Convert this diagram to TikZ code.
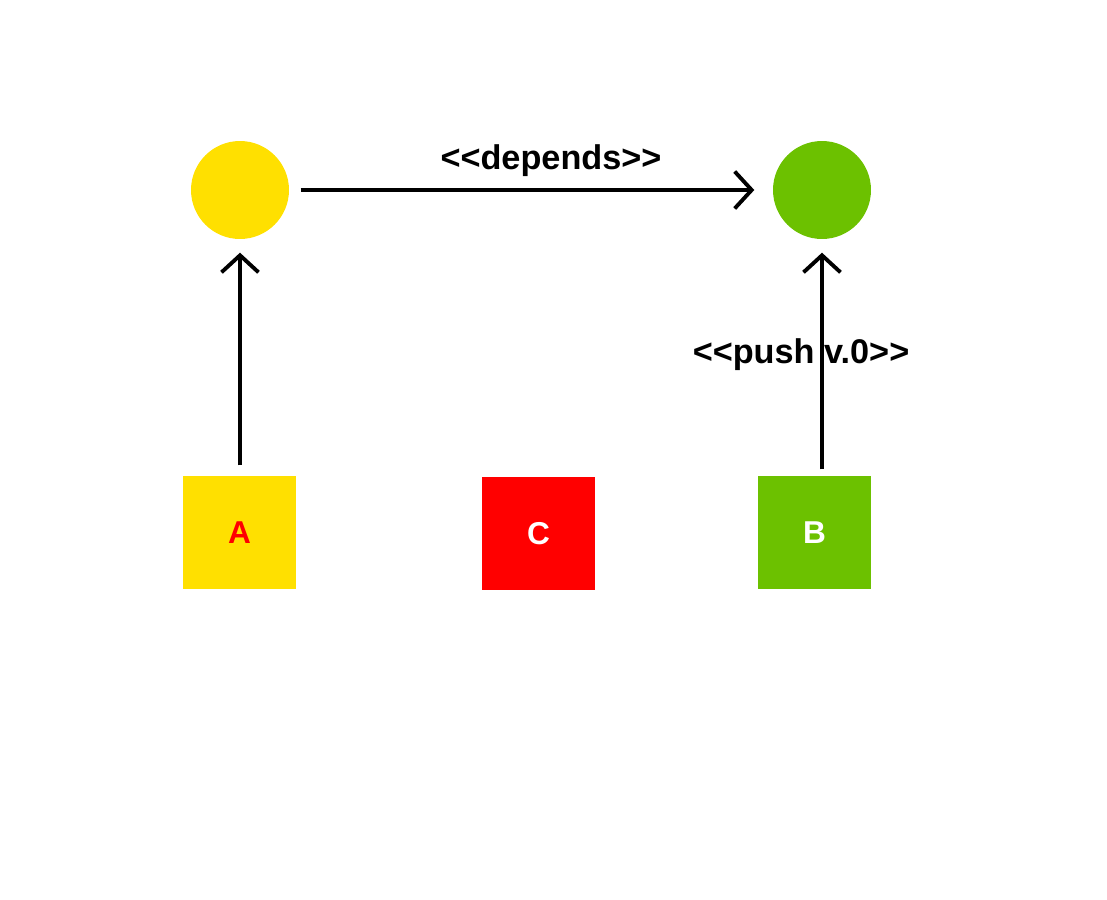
\documentclass[tikz,border=0pt]{standalone}
\usepackage{fontspec}
\setmainfont{Liberation Sans}
\usetikzlibrary{arrows.meta, positioning}

\definecolor{artyellow}{RGB}{255,224,0}
\definecolor{artgreen}{RGB}{108,193,0}
\definecolor{artred}{RGB}{255,0,0}

\begin{document}
\begin{tikzpicture}[x=0.02cm, y=-0.02cm, thick]
    \tikzstyle{repo} = [circle, inner sep=0pt, minimum size=1.96cm]
    \tikzstyle{module} = [rectangle, inner sep=0pt, minimum size=2.26cm, font=\fontsize{18}{20}\selectfont\bfseries]
    \tikzstyle{line} = [draw, -{Straight Barb[length=0.34cm, width=0.74cm]}, line width=2.2pt, black]
    \tikzstyle{stereo} = [font=\fontsize{19.5}{22}\selectfont\bfseries, inner sep=0pt]

    \useasboundingbox (0,0) rectangle (1107,900);

    % Nodes
    \node [repo, fill=artyellow] (repoA) at (240,190) {};
    \node [repo, fill=artgreen] (repoB) at (822,190) {};
    \node [module, fill=artyellow, text=artred] (modA) at (239.5,532.5) {A};
    \node [module, fill=artred, text=white] (modC) at (538.5,533.5) {C};
    \node [module, fill=artgreen, text=white] (modB) at (814.5,532.5) {B};

    % Connections
    \path [line, shorten <=0.22cm, shorten >=0.36cm] (repoA) -- (repoB);
    \path [line, shorten <=0.2cm, shorten >=0.26cm] (modA.north -| repoA) -- (repoA);
    \path [line, shorten <=0.12cm, shorten >=0.26cm] (modB.north -| repoB) -- (repoB);

    % Labels
    \node [stereo] (dep) at (551,161) {<\kern0pt<depends>\kern0pt>};
    \node [stereo] (push) at (801,355) {<\kern0pt<push v.0>\kern0pt>};
\end{tikzpicture}
\end{document}
